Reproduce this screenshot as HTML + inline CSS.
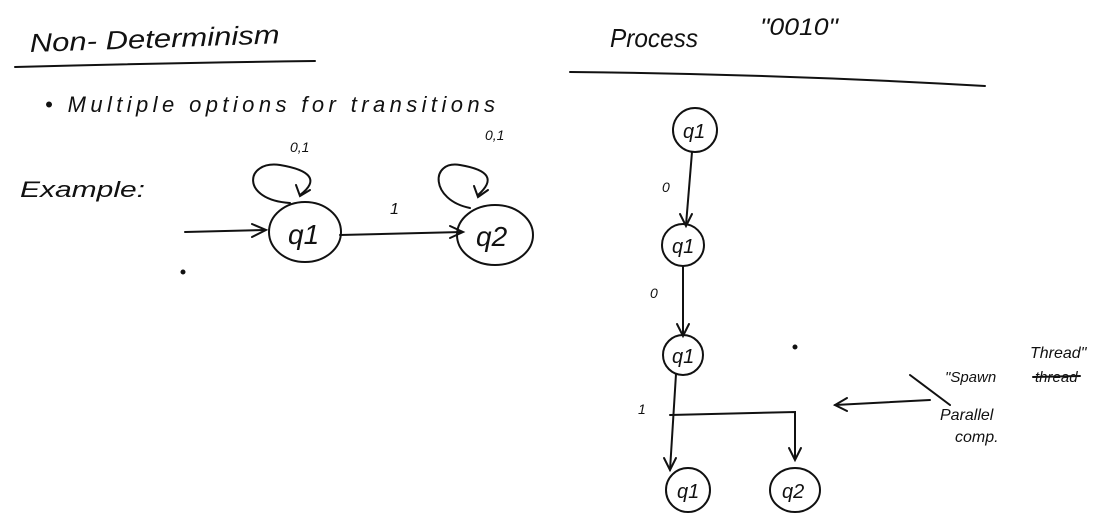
<!DOCTYPE html>
<html><head><meta charset="utf-8"><style>
html,body{margin:0;padding:0;background:#fff;width:1110px;height:528px;overflow:hidden}
svg{display:block}
text{font-family:"Liberation Sans",sans-serif;font-style:italic;fill:#111}
</style></head><body>
<svg width="1110" height="528" viewBox="0 0 1110 528" fill="none" stroke="#111" stroke-width="2" stroke-linecap="round">
<text x="30" y="52" font-size="26" stroke="none" textLength="250" lengthAdjust="spacingAndGlyphs" transform="rotate(-2 30 52)">Non- Determinism</text>
<path d="M15 67 Q160 63 315 61"/>
<text x="610" y="47" font-size="26" stroke="none" textLength="88" lengthAdjust="spacingAndGlyphs">Process</text>
<text x="760" y="35" font-size="24" stroke="none" textLength="78" lengthAdjust="spacingAndGlyphs">"0010"</text>
<path d="M570 72 Q780 74 985 86"/>
<text x="45" y="112" font-size="22" stroke="none" textLength="450" lengthAdjust="spacing">• Multiple   options   for     transitions</text>
<text x="20" y="197" font-size="22" stroke="none" textLength="125" lengthAdjust="spacingAndGlyphs">Example:</text>
<!-- left diagram -->
<path d="M185 232 L265 230"/><path d="M252 224 L266 230 L252 237"/>
<ellipse cx="305" cy="232" rx="36" ry="30"/>
<text x="288" y="244" font-size="28" stroke="none">q1</text>
<path d="M290 203 C240 200 245 160 280 165 C310 170 320 180 300 195"/><path d="M296 185 L300 196 L310 190"/>
<text x="290" y="152" font-size="14" stroke="none">0,1</text>
<path d="M340 235 L462 232"/><path d="M450 226 L463 232 L450 238"/>
<text x="390" y="214" font-size="16" stroke="none">1</text>
<ellipse cx="495" cy="235" rx="38" ry="30"/>
<text x="476" y="246" font-size="28" stroke="none">q2</text>
<path d="M470 208 C430 200 430 160 460 165 C490 170 495 180 478 195"/><path d="M474 186 L478 197 L488 190"/>
<text x="485" y="140" font-size="14" stroke="none">0,1</text>
<circle cx="183" cy="272" r="1.5" fill="#111"/>
<!-- right diagram -->
<ellipse cx="695" cy="130" rx="22" ry="22"/>
<text x="683" y="138" font-size="20" stroke="none">q1</text>
<path d="M692 152 L686 225"/><path d="M680 214 L686 226 L692 214"/>
<text x="662" y="192" font-size="14" stroke="none">0</text>
<ellipse cx="683" cy="245" rx="21" ry="21"/>
<text x="672" y="253" font-size="20" stroke="none">q1</text>
<path d="M683 266 L683 335"/><path d="M677 324 L683 336 L689 324"/>
<text x="650" y="298" font-size="14" stroke="none">0</text>
<ellipse cx="683" cy="355" rx="20" ry="20"/>
<text x="672" y="363" font-size="20" stroke="none">q1</text>
<path d="M676 374 L670 470"/><path d="M670 415 L795 412 L795 458"/><path d="M789 448 L795 460 L801 448"/>
<path d="M664 458 L670 470 L676 458"/>
<text x="638" y="414" font-size="14" stroke="none">1</text>
<ellipse cx="688" cy="490" rx="22" ry="22"/>
<text x="677" y="498" font-size="20" stroke="none">q1</text>
<ellipse cx="795" cy="490" rx="25" ry="22"/>
<text x="782" y="498" font-size="20" stroke="none">q2</text>
<circle cx="795" cy="347" r="1.5" fill="#111"/>
<path d="M930 400 L835 405"/><path d="M847 398 L835 405 L847 411"/>
<text x="1030" y="358" font-size="16" stroke="none">Thread"</text>
<text x="945" y="382" font-size="15" stroke="none">"Spawn</text>
<text x="1035" y="382" font-size="15" stroke="none">thread</text>
<path d="M1033 377 L1080 376"/>
<path d="M910 375 L950 405"/>
<text x="940" y="420" font-size="16" stroke="none">Parallel</text>
<text x="955" y="442" font-size="16" stroke="none">comp.</text>
</svg>
</body></html>
